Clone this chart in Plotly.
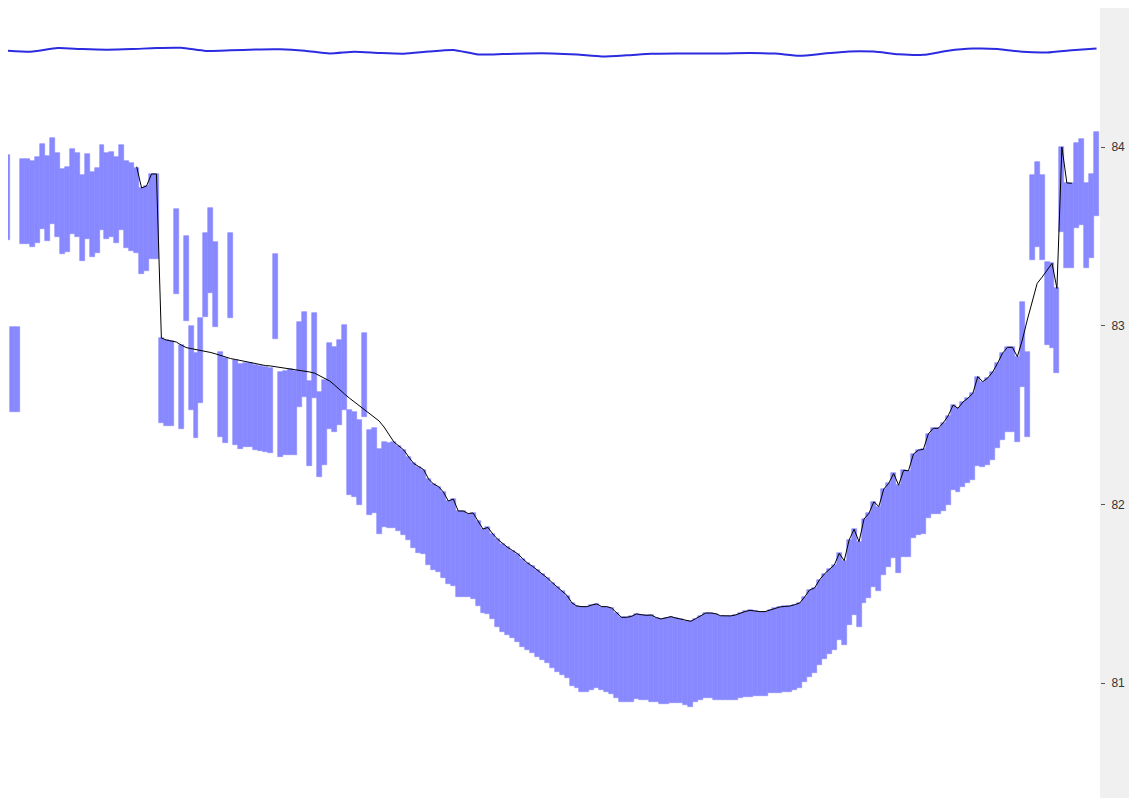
import plotly.graph_objects as go

# ---- data ----
bar_high = [
    83.955, 82.994, 82.994, 83.931, 83.931, 83.920, 83.942, 84.017, 83.950, 84.049,
    83.968, 83.875, 83.890, 83.987, 83.968, 83.843, 83.961, 83.862, 83.881, 84.011,
    83.965, 83.974, 83.946, 84.011, 83.923, 83.912, 83.883, 83.771, 83.782, 83.849,
    83.849, 82.931, 82.920, 82.914, 83.651, 82.892, 83.502, 83.000, 82.846, 83.041,
    83.517, 83.657, 83.470, 82.853, 82.818, 83.517, 82.808, 82.786, 82.793, 82.793,
    82.780, 82.775, 82.771, 82.762, 83.401, 82.743, 82.748, 82.756, 82.748, 83.022,
    83.078, 82.691, 83.069, 82.631, 82.696, 82.902, 82.883, 82.920, 83.004, 82.528,
    82.519, 82.472, 82.961, 82.416, 82.428, 82.310, 82.351, 82.342, 82.349, 82.327,
    82.304, 82.265, 82.229, 82.212, 82.195, 82.142, 82.114, 82.100, 82.069, 82.019,
    82.030, 81.963, 81.963, 81.949, 81.952, 81.907, 81.862, 81.871, 81.834, 81.804,
    81.781, 81.759, 81.742, 81.724, 81.697, 81.672, 81.654, 81.633, 81.611, 81.588,
    81.562, 81.538, 81.514, 81.490, 81.448, 81.431, 81.428, 81.428, 81.437, 81.443,
    81.428, 81.428, 81.420, 81.392, 81.368, 81.368, 81.373, 81.387, 81.381, 81.379,
    81.381, 81.367, 81.359, 81.365, 81.372, 81.364, 81.358, 81.350, 81.346, 81.361,
    81.378, 81.392, 81.392, 81.389, 81.377, 81.376, 81.376, 81.381, 81.392, 81.401,
    81.407, 81.402, 81.400, 81.400, 81.409, 81.420, 81.426, 81.429, 81.431, 81.439,
    81.448, 81.482, 81.521, 81.532, 81.577, 81.611, 81.639, 81.661, 81.726, 81.685,
    81.801, 81.861, 81.791, 81.918, 81.950, 82.015, 81.988, 82.086, 82.118, 82.173,
    82.108, 82.190, 82.189, 82.282, 82.304, 82.308, 82.394, 82.426, 82.426, 82.456,
    82.495, 82.556, 82.538, 82.573, 82.594, 82.622, 82.715, 82.687, 82.707, 82.741,
    82.790, 82.846, 82.879, 82.879, 82.827, 83.134, 82.855, 83.843, 83.918, 83.843,
    83.358, 83.349, 83.209, 84.002, 83.797, 83.797, 84.021, 84.043, 83.797, 83.849,
    84.086,
]

bar_low = [
    83.480, 82.519, 82.519, 83.457, 83.457, 83.442, 83.465, 83.541, 83.472, 83.569,
    83.495, 83.401, 83.412, 83.513, 83.495, 83.364, 83.484, 83.386, 83.408, 83.536,
    83.484, 83.498, 83.461, 83.536, 83.433, 83.420, 83.405, 83.289, 83.308, 83.372,
    83.372, 82.456, 82.439, 82.439, 83.177, 82.420, 83.028, 82.528, 82.370, 82.566,
    83.050, 83.181, 82.994, 82.377, 82.342, 83.041, 82.332, 82.310, 82.323, 82.323,
    82.304, 82.300, 82.295, 82.286, 82.924, 82.267, 82.276, 82.276, 82.276, 82.547,
    82.603, 82.215, 82.594, 82.155, 82.221, 82.420, 82.407, 82.444, 82.528, 82.053,
    82.043, 81.997, 82.491, 81.941, 81.952, 81.834, 81.875, 81.866, 81.866, 81.851,
    81.829, 81.801, 81.756, 81.728, 81.721, 81.661, 81.633, 81.623, 81.588, 81.555,
    81.543, 81.482, 81.482, 81.482, 81.471, 81.431, 81.391, 81.387, 81.359, 81.316,
    81.288, 81.269, 81.251, 81.232, 81.204, 81.185, 81.167, 81.148, 81.129, 81.111,
    81.083, 81.064, 81.045, 81.027, 80.984, 80.971, 80.952, 80.952, 80.961, 80.973,
    80.961, 80.952, 80.939, 80.917, 80.896, 80.896, 80.896, 80.911, 80.905, 80.905,
    80.896, 80.896, 80.881, 80.881, 80.887, 80.887, 80.890, 80.877, 80.868, 80.896,
    80.905, 80.915, 80.915, 80.905, 80.905, 80.905, 80.905, 80.905, 80.918, 80.924,
    80.924, 80.928, 80.928, 80.928, 80.943, 80.943, 80.943, 80.952, 80.952, 80.961,
    80.973, 81.006, 81.036, 81.057, 81.101, 81.135, 81.163, 81.185, 81.241, 81.213,
    81.325, 81.381, 81.316, 81.448, 81.475, 81.538, 81.515, 81.605, 81.650, 81.698,
    81.616, 81.707, 81.707, 81.810, 81.829, 81.834, 81.922, 81.946, 81.946, 81.963,
    81.997, 82.081, 82.069, 82.097, 82.120, 82.137, 82.215, 82.211, 82.221, 82.248,
    82.316, 82.360, 82.405, 82.405, 82.351, 82.655, 82.379, 83.368, 83.442, 83.368,
    82.892, 82.874, 82.737, 83.526, 83.321, 83.321, 83.545, 83.563, 83.321, 83.377,
    83.614,
]

# black line: smooth part on the left, bar tops in the U region, right end
line_left = [
    83.890, 83.771, 83.782, 83.849, 83.849, 82.931, 82.920, 82.916, 82.909, 82.892,
    82.878, 82.872, 82.867, 82.861, 82.856, 82.850, 82.842, 82.833, 82.822, 82.816,
    82.811, 82.805, 82.800, 82.793, 82.788, 82.783, 82.777, 82.775, 82.771, 82.766,
    82.761, 82.755, 82.752, 82.749, 82.747, 82.741, 82.734, 82.719, 82.705, 82.691,
    82.668, 82.640, 82.618, 82.595, 82.573, 82.553, 82.534, 82.512, 82.489, 82.467,
    82.433, 82.388,
]  # indices 26..77
line_right = [82.920, 83.032, 83.138, 83.237, 83.272, 83.309, 83.349, 83.209,
              84.000, 83.799, 83.797]  # indices 205..215

# blue line near the top, sampled every 5 bars
blue_idx = list(range(0, 221, 5))
blue_y = [
    84.539, 84.534, 84.554, 84.548, 84.545, 84.548, 84.554, 84.555, 84.538, 84.541,
    84.546, 84.547, 84.539, 84.524, 84.533, 84.526, 84.522, 84.534, 84.543, 84.518,
    84.520, 84.524, 84.524, 84.518, 84.507, 84.513, 84.522, 84.524, 84.524, 84.524,
    84.526, 84.523, 84.511, 84.523, 84.535, 84.534, 84.519, 84.516, 84.539, 84.551,
    84.549, 84.533, 84.529, 84.542, 84.552,
]

y_ticks = [81, 82, 83, 84]

# ---- figure ----
idx = list(range(len(bar_high)))
heights = [h - l for h, l in zip(bar_high, bar_low)]

line_x = list(range(26, 216))
line_y = line_left + bar_high[78:205] + line_right

fig = go.Figure()
fig.add_trace(go.Bar(
    x=idx, y=heights, base=bar_low,
    marker=dict(color="#8888ff", line=dict(width=0.6, color="#8888ff")),
    hoverinfo="skip",
))
fig.add_trace(go.Scatter(
    x=line_x, y=line_y, mode="lines",
    line=dict(color="#000000", width=1),
    hoverinfo="skip",
))
fig.add_trace(go.Scatter(
    x=blue_idx, y=blue_y, mode="lines",
    line=dict(color="#2b2be0", width=2, shape="spline", smoothing=0.6),
    hoverinfo="skip",
))

fig.update_layout(
    width=1129, height=790,
    margin=dict(l=0, r=37, t=0, b=0),
    paper_bgcolor="white", plot_bgcolor="white",
    showlegend=False, bargap=0, barmode="overlay",
    shapes=[dict(type="rect", xref="paper", yref="paper",
                 x0=1, x1=1.1, y0=0, y1=1,
                 fillcolor="#f0f0f0", line=dict(width=0), layer="below")],
)
fig.update_xaxes(visible=False, range=[0, 220.7])
fig.update_yaxes(
    side="right", range=[80.357, 84.778],
    tickvals=y_ticks, ticktext=[str(v) for v in y_ticks],
    ticks="outside", ticklen=4, tickwidth=1, tickcolor="#555555",
    ticklabelstandoff=4,
    tickfont=dict(family="Liberation Sans, Arial, sans-serif", size=12, color="#333333"),
    showgrid=False, zeroline=False, showline=False,
)

fig.write_html("out.html")
